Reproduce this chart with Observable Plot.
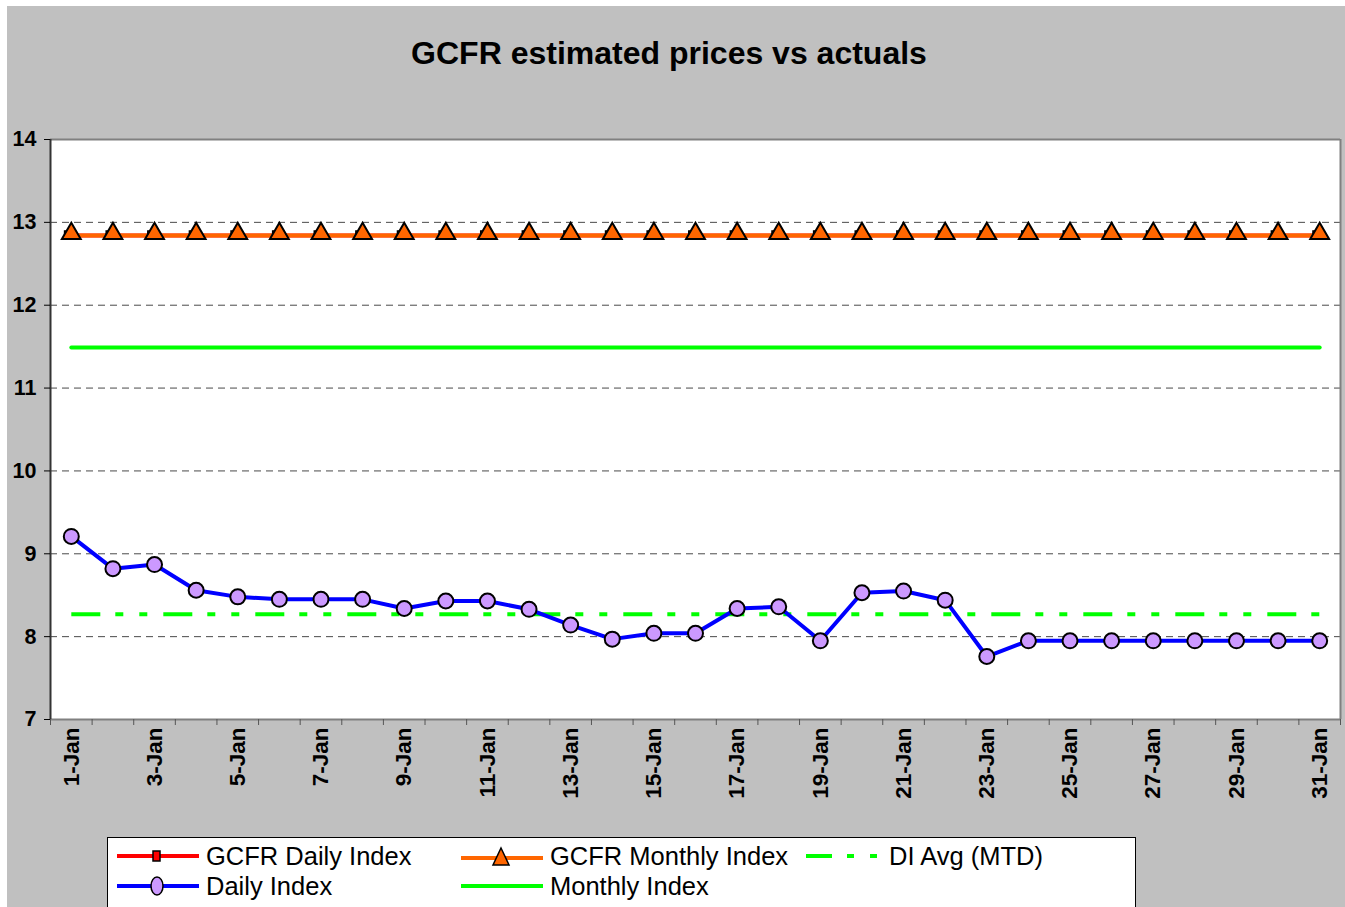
<!DOCTYPE html>
<html>
<head>
<meta charset="utf-8">
<script src="https://cdn.jsdelivr.net/npm/d3@7"></script>
<script src="https://cdn.jsdelivr.net/npm/@observablehq/plot@0.6"></script>
<style>
  html, body { margin: 0; padding: 0; background: #ffffff; }
  body { width: 1345px; height: 907px; position: relative; overflow: hidden; font-family: "Liberation Sans", Arial, sans-serif; }
  #bg { position: absolute; left: 7px; top: 6px; width: 1338px; height: 901px; background: #c0c0c0; }
  #title { position: absolute; left: 0; top: 35px; width: 1338px; text-align: center; font-size: 32px; font-weight: bold; line-height: 36px; color: #000; }
  #chart { position: absolute; left: 7px; top: 100px; }
  #legend { position: absolute; left: 107px; top: 837px; width: 1027px; height: 90px; background: #fff; border: 1px solid #000; }
  .item { position: absolute; display: flex; align-items: center; font-size: 25.5px; height: 30px; color: #000; white-space: nowrap; }
  .item svg { margin-right: 5px; }
</style>
</head>
<body>
<div id="bg"></div>
<div id="title">GCFR estimated prices vs actuals</div>
<div id="chart"></div>
<div id="legend"></div>
<script>
// ---- data ----
const days = [1,2,3,4,5,6,7,8,9,10,11,12,13,14,15,16,17,18,19,20,21,22,23,24,25,26,27,28,29,30,31];
const dailyIndex = [9.21, 8.82, 8.87, 8.56, 8.48, 8.45, 8.45, 8.45, 8.34, 8.43, 8.43, 8.33, 8.14, 7.97, 8.04, 8.04,
                    8.34, 8.36, 7.95, 8.53, 8.55, 8.44, 7.76, 7.95, 7.95, 7.95, 7.95, 7.95, 7.95, 7.95, 7.95];
const gcfrDailyIndex = [12.84,12.84,12.84,12.84,12.84,12.84,12.84,12.84,12.84,12.84,12.84,12.84,12.84,12.84,12.84,12.84,
                        12.84,12.84,12.84,12.84,12.84,12.84,12.84,12.84,12.84,12.84,12.84,12.84,12.84,12.84,12.84];
const gcfrMonthlyIndex = [12.84,12.84,12.84,12.84,12.84,12.84,12.84,12.84,12.84,12.84,12.84,12.84,12.84,12.84,12.84,12.84,
                          12.84,12.84,12.84,12.84,12.84,12.84,12.84,12.84,12.84,12.84,12.84,12.84,12.84,12.84,12.84];
const diAvgMTD = [8.27,8.27,8.27,8.27,8.27,8.27,8.27,8.27,8.27,8.27,8.27,8.27,8.27,8.27,8.27,8.27,
                  8.27,8.27,8.27,8.27,8.27,8.27,8.27,8.27,8.27,8.27,8.27,8.27,8.27,8.27,8.27];
const monthlyIndex = [11.49,11.49,11.49,11.49,11.49,11.49,11.49,11.49,11.49,11.49,11.49,11.49,11.49,11.49,11.49,11.49,
                      11.49,11.49,11.49,11.49,11.49,11.49,11.49,11.49,11.49,11.49,11.49,11.49,11.49,11.49,11.49];
const xTickDays = [1,3,5,7,9,11,13,15,17,19,21,23,25,27,29,31];
const xTickLabels = ["1-Jan","3-Jan","5-Jan","7-Jan","9-Jan","11-Jan","13-Jan","15-Jan","17-Jan","19-Jan","21-Jan","23-Jan","25-Jan","27-Jan","29-Jan","31-Jan"];
const yTicks = [7,8,9,10,11,12,13,14];
const gridValues = [8,9,10,11,12,13];

const seriesNames = ["GCFR Daily Index","GCFR Monthly Index","DI Avg (MTD)","Daily Index","Monthly Index"];

const rows = (vals) => days.map((d, i) => ({day: d, value: vals[i]}));
const tGD = rows(gcfrDailyIndex), tGM = rows(gcfrMonthlyIndex), tAvg = rows(diAvgMTD), tDI = rows(dailyIndex), tMI = rows(monthlyIndex);
const boundaries = days.map(d => d - 0.5).concat([days[days.length - 1] + 0.5]);

const plot = Plot.plot({
  width: 1338, height: 720,
  marginLeft: 43, marginRight: 5, marginTop: 39, marginBottom: 101,
  style: {fontFamily: '"Liberation Sans", Arial, sans-serif', fontSize: "20px", fontWeight: "bold", background: "transparent", color: "#000"},
  x: {type: "linear", domain: [0.5, 31.5]},
  y: {domain: [7, 14]},
  marks: [
    Plot.frame({fill: "#ffffff", stroke: null}),
    Plot.ruleY(gridValues, {stroke: "#4a4a4a", strokeWidth: 1, strokeDasharray: "7,5"}),
    Plot.ruleY([14], {stroke: "#808080", strokeWidth: 2}),
    Plot.ruleX([31.5], {stroke: "#808080", strokeWidth: 2}),
    Plot.ruleY([7], {stroke: "#808080", strokeWidth: 2}),
    Plot.ruleX([0.5], {stroke: "#333333", strokeWidth: 2}),
    Plot.axisY({ticks: yTicks, tickSize: 6, tickPadding: 8, fontSize: 21.5, fontWeight: "bold", label: null, tickFormat: d => String(d)}),
    Plot.axisX({ticks: boundaries, tickSize: 6, tickFormat: () => "", label: null, stroke: "#555"}),
    Plot.axisX({ticks: xTickDays, tickSize: 0, tickPadding: 8, tickRotate: -90, fontSize: 22.5, fontWeight: "bold", label: null,
                tickFormat: d => xTickLabels[xTickDays.indexOf(d)]}),
    // GCFR Daily Index (red, hidden under orange)
    Plot.line(tGD, {x: "day", y: "value", stroke: "#ff0000", strokeWidth: 4}),
    // GCFR Monthly Index
    Plot.line(tGM, {x: "day", y: "value", stroke: "#ff6600", strokeWidth: 4}),
    Plot.dot(tGD, {x: "day", y: "value", symbol: "square", r: 4.2, fill: "#ff0000", stroke: "#000", strokeWidth: 1.5, dx: -3, dy: -1}),
    Plot.dot(tGM, {x: "day", y: "value", symbol: "triangle", r: 7, fill: "#ff6600", stroke: "#000", strokeWidth: 2, dy: -2}),
    // Monthly Index
    Plot.line(tMI, {x: "day", y: "value", stroke: "#00ff00", strokeWidth: 4}),
    // DI Avg (MTD)
    Plot.line(tAvg, {x: "day", y: "value", stroke: "#00ff00", strokeWidth: 4, strokeDasharray: "29,15,8,16,8,16", strokeLinecap: "butt"}),
    // Daily Index
    Plot.line(tDI, {x: "day", y: "value", stroke: "#0000ff", strokeWidth: 4}),
    Plot.dot(tDI, {x: "day", y: "value", r: 7.5, fill: "#cc99ff", stroke: "#000", strokeWidth: 2})
  ]
});
document.getElementById("chart").appendChild(plot);

// ---- legend ----
const swatch = {
  "GCFR Daily Index": `<svg width="86" height="20"><line x1="2" y1="10" x2="84" y2="10" stroke="#ff0000" stroke-width="4"/><rect x="38" y="5" width="7" height="10" fill="#ff0000" stroke="#000" stroke-width="1.5"/></svg>`,
  "GCFR Monthly Index": `<svg width="86" height="24"><line x1="2" y1="14" x2="84" y2="14" stroke="#ff6600" stroke-width="4"/><path d="M42,4 L50,21 L34,21 Z" fill="#ff6600" stroke="#000" stroke-width="1.5"/></svg>`,
  "DI Avg (MTD)": `<svg width="80" height="20"><line x1="2" y1="10" x2="78" y2="10" stroke="#00ff00" stroke-width="4" stroke-dasharray="26,15,7,16,7,16"/></svg>`,
  "Daily Index": `<svg width="86" height="24"><line x1="2" y1="12" x2="84" y2="12" stroke="#0000ff" stroke-width="4"/><ellipse cx="42" cy="12" rx="6" ry="9" fill="#cc99ff" stroke="#000" stroke-width="1.5"/></svg>`,
  "Monthly Index": `<svg width="86" height="20"><line x1="2" y1="10" x2="84" y2="10" stroke="#00ff00" stroke-width="4"/></svg>`
};
const positions = [[7, 3], [351, 3], [696, 3], [7, 33], [351, 33]];
const legend = document.getElementById("legend");
seriesNames.forEach((name, i) => {
  const el = document.createElement("div");
  el.className = "item";
  el.style.left = positions[i][0] + "px";
  el.style.top = positions[i][1] + "px";
  el.innerHTML = swatch[name] + `<span>${name}</span>`;
  legend.appendChild(el);
});
</script>
</body>
</html>
